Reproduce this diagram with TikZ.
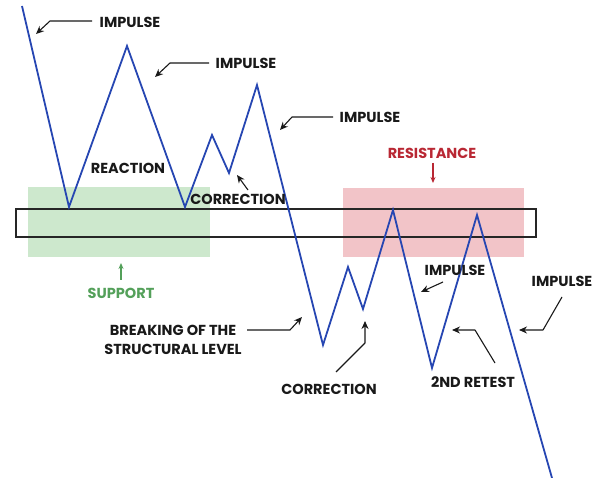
\documentclass[tikz,border=0pt]{standalone}
\usepackage{fontspec}
\setmainfont{Poppins}
\usetikzlibrary{arrows.meta}
\definecolor{lineblue}{RGB}{38,70,178}
\definecolor{supgreen}{RGB}{205,232,205}
\definecolor{resred}{RGB}{242,196,200}
\definecolor{txtgreen}{RGB}{84,160,90}
\definecolor{txtred}{RGB}{185,40,52}
\begin{document}
\begin{tikzpicture}[x=1pt,y=-1pt,
  lbl/.style={font=\bfseries\fontsize{14.5}{19}\selectfont, inner sep=0pt, text=black!90},
  ptr/.style={draw=black!90, line width=1.1pt, line join=round, -{Stealth[length=8pt,width=7pt]}},
  zonearrow/.style={line width=1.1pt, -{Stealth[length=6pt,width=5pt]}},
  price/.style={draw=lineblue, line width=1.8pt, line join=miter}]
\useasboundingbox (0,0) rectangle (605,478);

% zones
\fill[supgreen] (28,187) rectangle (210,257);
\fill[resred] (343,188) rectangle (524,257);
\draw[black!85, line width=1.2pt] (16,209) rectangle (536,237);

% price path points
\coordinate (p0) at (22,6);
\coordinate (p1) at (69,207);
\coordinate (p2) at (127,46);
\coordinate (p3) at (185,207);
\coordinate (p4) at (212,135);
\coordinate (p5) at (229,173);
\coordinate (p6) at (257,85);
\coordinate (p7) at (323,345);
\coordinate (p8) at (348,267);
\coordinate (p9) at (363,309);
\coordinate (p10) at (393,210);
\coordinate (p11) at (432,368);
\coordinate (p12) at (477,215);
\coordinate (p13) at (552,478);
\draw[price] (p0) -- (p1) -- (p2) -- (p3) -- (p4) -- (p5) -- (p6) -- (p7) -- (p8) -- (p9) -- (p10) -- (p11) -- (p12) -- (p13);

% labels
\node[lbl] (imp1) at (130,22) {IMPULSE};
\node[lbl] (imp2) at (246,63) {IMPULSE};
\node[lbl] (imp3) at (370,117) {IMPULSE};
\node[lbl] (reac) at (128,168) {REACTION};
\node[lbl] (corr1) at (238,199) {CORRECTION};
\node[lbl, text=txtred] (res) at (432,153) {RESISTANCE};
\node[lbl, text=txtgreen] (sup) at (121,293) {SUPPORT};
\node[lbl, align=center] (brk) at (173,340) {BREAKING OF THE\\STRUCTURAL LEVEL};
\node[lbl] (corr2) at (329,389) {CORRECTION};
\node[lbl] (imp4) at (455,270) {IMPULSE};
\node[lbl] (imp5) at (562,281) {IMPULSE};
\node[lbl] (ret) at (473,382) {2ND RETEST};

% arrow coordinates
\coordinate (a1s) at (92,21);  \coordinate (a1b) at (50,21);  \coordinate (a1t) at (36,34);
\coordinate (a2s) at (209,63); \coordinate (a2b) at (170,63); \coordinate (a2t) at (155,77);
\coordinate (a3s) at (333,117); \coordinate (a3b) at (292,117); \coordinate (a3t) at (280,130);
\coordinate (c1s) at (248,190); \coordinate (c1t) at (237,175);
\coordinate (rs) at (433,163);  \coordinate (rt) at (433,183);
\coordinate (ss) at (121,280);  \coordinate (st) at (121,263);
\coordinate (bs) at (247,330);  \coordinate (bb) at (290,330);  \coordinate (bt) at (302,317);
\coordinate (c2s) at (336,372); \coordinate (c2b) at (365,343); \coordinate (c2t) at (365,321);
\coordinate (i4s) at (443,282); \coordinate (i4t) at (421,292);
\coordinate (i5s) at (562,297); \coordinate (i5b) at (543,330); \coordinate (i5t) at (519,330);
\coordinate (r2s) at (495,363); \coordinate (r2b) at (475,330); \coordinate (r2t) at (452,330);

% connectors
\draw[ptr] (a1s) -- (a1b) -- (a1t);
\draw[ptr] (a2s) -- (a2b) -- (a2t);
\draw[ptr] (a3s) -- (a3b) -- (a3t);
\draw[ptr] (c1s) -- (c1t);
\draw[zonearrow, draw=txtred, fill=txtred] (rs) -- (rt);
\draw[zonearrow, draw=txtgreen, fill=txtgreen] (ss) -- (st);
\draw[ptr] (bs) -- (bb) -- (bt);
\draw[ptr] (c2s) -- (c2b) -- (c2t);
\draw[ptr] (i4s) -- (i4t);
\draw[ptr] (i5s) -- (i5b) -- (i5t);
\draw[ptr] (r2s) -- (r2b) -- (r2t);
\end{tikzpicture}
\end{document}
